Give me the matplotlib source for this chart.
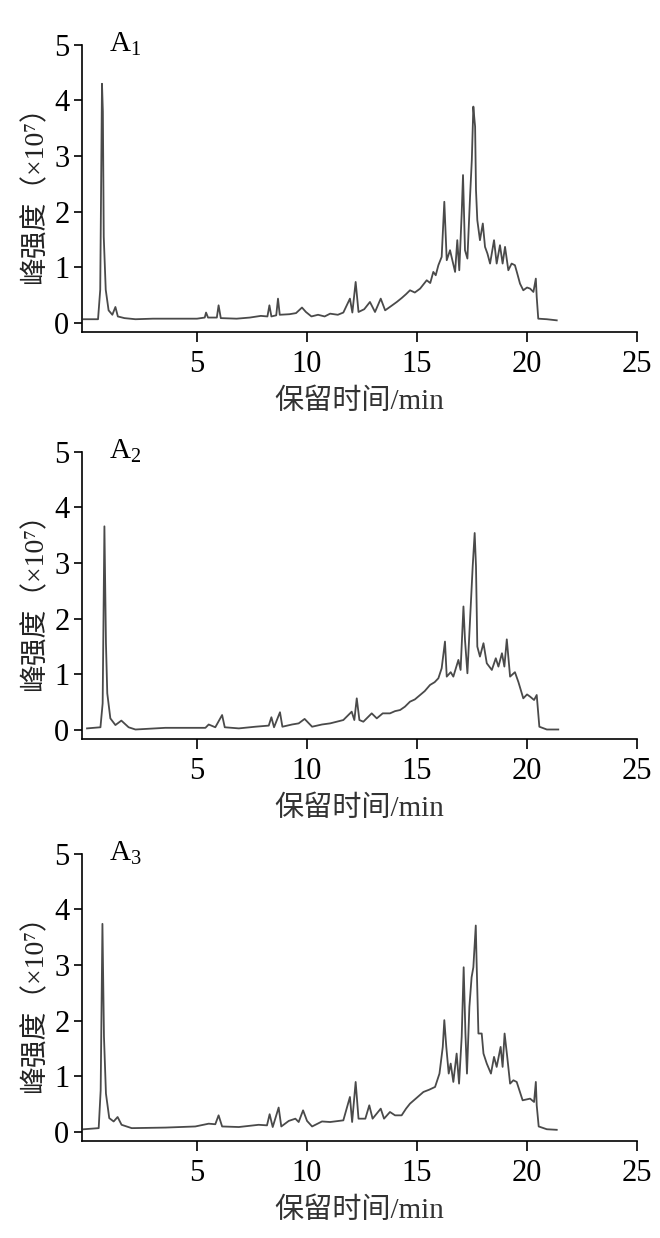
import matplotlib
matplotlib.use('Agg')
from matplotlib import pyplot as plt

plt.rcParams['font.family'] = ['Liberation Serif', 'Noto Sans CJK SC', 'DejaVu Sans']
plt.rcParams['mathtext.fontset'] = 'custom'
plt.rcParams['mathtext.rm'] = 'Liberation Serif'
plt.rcParams['mathtext.it'] = 'Liberation Serif'

# retention time (min) / intensity (x10^7)
t1 = [-0.15, 0.5, 0.6, 0.68, 0.72, 0.76, 0.85, 0.98, 1.15, 1.29, 1.4, 1.7, 2.2, 3.0, 4.0, 5.0,
      5.35, 5.41, 5.5, 5.9, 5.98, 6.08, 6.8, 7.4, 7.9, 8.2, 8.29, 8.38, 8.6, 8.68, 8.76, 9.2,
      9.5, 9.77, 9.95, 10.2, 10.5, 10.8, 11.05, 11.4, 11.65, 11.95, 12.06, 12.21, 12.34, 12.6,
      12.86, 13.09, 13.35, 13.55, 13.8, 14.08, 14.3, 14.5, 14.68, 14.9, 15.14, 15.3, 15.44, 15.6,
      15.74, 15.85, 15.97, 16.12, 16.24, 16.35, 16.5, 16.57, 16.73, 16.83, 16.92, 17.03, 17.09,
      17.18, 17.29, 17.41, 17.49, 17.56, 17.6, 17.64, 17.68, 17.74, 17.86, 17.99, 18.09, 18.2,
      18.32, 18.5, 18.62, 18.77, 18.89, 19.0, 19.15, 19.3, 19.45, 19.55, 19.68, 19.83, 20.0,
      20.14, 20.29, 20.4, 20.44, 20.51, 20.9, 21.35]
y1 = [0.07, 0.07, 0.6, 4.30, 3.8, 1.55, 0.6, 0.23, 0.15, 0.29, 0.12, 0.09, 0.07, 0.08, 0.08, 0.08,
      0.1, 0.19, 0.1, 0.1, 0.32, 0.09, 0.08, 0.1, 0.13, 0.12, 0.32, 0.12, 0.14, 0.44, 0.15, 0.16,
      0.18, 0.28, 0.2, 0.12, 0.15, 0.12, 0.17, 0.15, 0.19, 0.44, 0.19, 0.74, 0.2, 0.25,
      0.38, 0.2, 0.44, 0.23, 0.3, 0.38, 0.45, 0.52, 0.59, 0.55, 0.62, 0.7, 0.77, 0.72,
      0.92, 0.86, 1.04, 1.19, 2.18, 1.13, 1.31, 1.19, 0.92, 1.49, 0.95, 1.97, 2.66,
      1.31, 1.16, 2.27, 2.93, 3.89, 3.7, 3.53, 2.39, 1.85, 1.49, 1.79, 1.37, 1.25,
      1.07, 1.49, 1.07, 1.40, 1.07, 1.37, 0.95, 1.07, 1.04, 0.9, 0.71, 0.59, 0.64,
      0.62, 0.56, 0.80, 0.47, 0.08, 0.07, 0.05]

t2 = [0.0, 0.61, 0.71, 0.79, 0.86, 0.92, 1.06, 1.29, 1.56, 1.89, 2.2, 3.56, 5.38, 5.53, 5.83,
      6.14, 6.26, 6.9, 7.65, 8.26, 8.38, 8.5, 8.77, 8.88, 9.32, 9.62, 9.89, 10.23, 10.68, 11.05,
      11.65, 12.03, 12.15, 12.26, 12.38, 12.56, 12.94, 13.17, 13.44, 13.77, 14.0, 14.23, 14.45,
      14.68, 14.9, 15.14, 15.35, 15.59, 15.8, 15.97, 16.12, 16.27, 16.35, 16.53, 16.65, 16.88,
      16.98, 17.11, 17.18, 17.29, 17.41, 17.53, 17.62, 17.68, 17.74, 17.86, 18.02, 18.17, 18.4,
      18.58, 18.7, 18.86, 18.97, 19.08, 19.23, 19.45, 19.61, 19.83, 20.0, 20.14, 20.32, 20.44,
      20.56, 20.9, 21.42]
y2 = [0.03, 0.05, 0.48, 3.66, 1.56, 0.66, 0.21, 0.09, 0.17, 0.05, 0.01, 0.04, 0.04, 0.1, 0.05,
      0.27, 0.05, 0.03, 0.06, 0.08, 0.23, 0.05, 0.32, 0.06, 0.1, 0.12, 0.2, 0.06, 0.1, 0.12,
      0.18, 0.33, 0.18, 0.57, 0.18, 0.15, 0.3, 0.21, 0.3, 0.3, 0.34, 0.36, 0.42,
      0.51, 0.55, 0.63, 0.7, 0.81, 0.86, 0.93, 1.11, 1.59, 0.96, 1.04, 0.96, 1.26,
      1.08, 2.22, 1.62, 1.02, 1.98, 2.94, 3.54, 2.94, 1.5, 1.32, 1.56, 1.2, 1.08,
      1.29, 1.14, 1.38, 1.14, 1.63, 0.96, 1.04, 0.86, 0.57, 0.64, 0.6, 0.54, 0.63,
      0.06, 0.01, 0.01]

t3 = [-0.15, 0.53, 0.62, 0.7, 0.77, 0.86, 1.01, 1.21, 1.39, 1.57, 2.03, 3.56, 4.92, 5.53, 5.83,
      5.98, 6.14, 6.9, 7.8, 8.18, 8.3, 8.44, 8.71, 8.83, 9.17, 9.47, 9.62, 9.82, 10.0, 10.23,
      10.68, 11.05, 11.65, 11.95, 12.05, 12.21, 12.34, 12.65, 12.83, 12.98, 13.35, 13.5, 13.77,
      14.0, 14.3, 14.5, 14.68, 15.0, 15.29, 15.55, 15.82, 16.02, 16.17, 16.24, 16.33, 16.44,
      16.53, 16.65, 16.8, 16.91, 17.03, 17.12, 17.2, 17.27, 17.38, 17.48, 17.56, 17.67, 17.71,
      17.79, 17.94, 18.02, 18.17, 18.36, 18.5, 18.62, 18.8, 18.89, 18.98, 19.1, 19.23, 19.38,
      19.53, 19.8, 20.14, 20.32, 20.4, 20.44, 20.53, 20.9, 21.35]
y3 = [0.05, 0.07, 0.75, 3.74, 1.71, 0.69, 0.25, 0.19, 0.27, 0.13, 0.07, 0.08, 0.1, 0.15, 0.14,
      0.3, 0.1, 0.09, 0.13, 0.12, 0.32, 0.09, 0.44, 0.1, 0.2, 0.24, 0.18, 0.39, 0.2, 0.1,
      0.19, 0.18, 0.21, 0.63, 0.18, 0.9, 0.24, 0.24, 0.48, 0.24, 0.42, 0.24, 0.36,
      0.3, 0.3, 0.42, 0.51, 0.62, 0.72, 0.76, 0.81, 1.05, 1.53, 2.01, 1.53, 1.05,
      1.23, 0.9, 1.41, 0.87, 1.71, 2.96, 1.77, 1.05, 2.25, 2.78, 2.96, 3.71, 3.02,
      1.77, 1.77, 1.41, 1.23, 1.05, 1.35, 1.17, 1.53, 1.17, 1.77, 1.35, 0.87, 0.93,
      0.9, 0.57, 0.6, 0.54, 0.9, 0.48, 0.1, 0.05, 0.04]

labels = ['A$_\\mathrm{1}$', 'A$_\\mathrm{2}$', 'A$_\\mathrm{3}$']
series = [(t1, y1), (t2, y2), (t3, y3)]
bottoms = [0.7318, 0.4031, 0.0784]

fig = plt.figure(figsize=(6.6, 12.38), dpi=100)
for i in range(3):
    ax = fig.add_axes([0.1242, bottoms[i], 0.841, 0.232])
    t, y = series[i]
    ax.plot(t, y, color='#4a4a4a', lw=1.3)
    ax.set_xlim(-0.23, 25)
    ax.set_ylim(-0.16, 5)
    ax.set_xticks([5, 10, 15, 20, 25])
    ax.set_yticks([0, 1, 2, 3, 4, 5])
    ax.spines['top'].set_visible(False)
    ax.spines['right'].set_visible(False)
    ax.spines['left'].set_linewidth(1.2)
    ax.spines['bottom'].set_linewidth(1.2)
    ax.tick_params(axis='y', length=6, width=1.2, pad=3, labelsize=22)
    ax.tick_params(axis='x', length=7, width=1.2, pad=6, labelsize=22)
    ax.set_xlabel('保留时间/min', fontsize=21, color='#333333', labelpad=7)
    ax.set_ylabel('峰强度（×10⁷）', fontsize=20, color='#222222', labelpad=4)
    ax.text(1.0, 5.0, labels[i], fontsize=21, va='center', ha='left')

fig.savefig('out.png', dpi=100)
